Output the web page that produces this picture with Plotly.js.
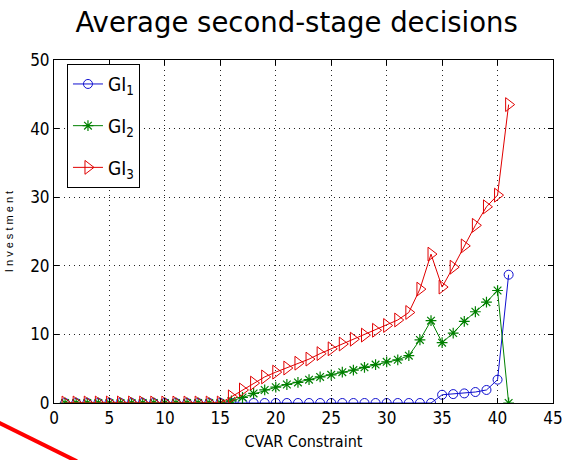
<!DOCTYPE html>
<html><head><meta charset="utf-8">
<script src="https://cdn.plot.ly/plotly-3.0.1.min.js"></script>
<style>html,body{margin:0;padding:0;background:#fff;}#chart{width:565px;height:460px;}</style>
</head><body><div id="chart"></div>
<script>
const cvar = [1,2,3,4,5,6,7,8,9,10,11,12,13,14,15,16,17,18,19,20,21,22,23,24,25,26,27,28,29,30,31,32,33,34,35,36,37,38,39,40,41];
const gi1 = [0,0,0,0,0,0,0,0,0,0,0,0,0,0,0,0,0,0,0,0,0,0,0,0,0,0,0,0,0,0,0,0,0,0,1.2,1.3,1.4,1.6,1.9,3.4,18.7];
const gi2 = [0,0,0,0,0,0,0,0,0,0,0,0,0,0,0,0.3,0.8,1.4,1.9,2.3,2.7,3.0,3.4,3.8,4.1,4.5,4.8,5.2,5.6,6.0,6.3,6.9,9.2,12.0,8.8,10.2,11.9,13.3,14.7,16.4,0];
const gi3 = [0,0,0,0,0,0,0,0,0,0,0,0,0,0,0,0.9,1.9,2.9,3.8,4.5,5.1,5.8,6.4,7.2,7.9,8.6,9.3,9.9,10.6,11.3,12.1,13.2,16.6,21.7,16.9,19.8,22.9,25.9,28.6,30.3,43.5];
const names = ["GI<sub>1</sub>","GI<sub>2</sub>","GI<sub>3</sub>"];
const xTicks = [0,5,10,15,20,25,30,35,40,45];
const yTicks = [0,10,20,30,40,50];

const narrow = "DejaVu Sans Condensed, Liberation Sans Narrow, Liberation Sans, Arial";
const tickFont = {family:narrow, size:17, color:"#000"};
const traces = [
  {x:cvar, y:gi1, name:names[0], legendgroup:"a", mode:"lines+markers",
   line:{color:"#1010d0", width:1}, marker:{symbol:"circle-open", size:9, color:"#1010d0", line:{width:1}}},
  {x:cvar, y:gi2, name:names[1], legendgroup:"b", mode:"lines+markers",
   line:{color:"#008000", width:1}, marker:{symbol:"asterisk-open", size:9, color:"#008000", line:{width:1.2}}},
  {x:cvar, y:gi3, name:names[2], legendgroup:"c", mode:"lines+markers",
   line:{color:"#e00000", width:1}, marker:{symbol:"triangle-right-open", size:12, color:"#e00000", line:{width:1}}}
];
const axisCommon = {
  showline:true, linecolor:"#000", linewidth:1, mirror:"ticks",
  ticks:"inside", ticklen:5, tickcolor:"#000",
  showgrid:true, gridcolor:"#222", griddash:"1px,4px", gridwidth:1,
  zeroline:false, tickfont:tickFont
};
const layout = {
  width:565, height:460,
  margin:{l:54, r:12, t:60, b:57},
  paper_bgcolor:"#fff", plot_bgcolor:"#fff",
  title:{text:"Average second-stage decisions", x:0.525, xanchor:"center", y:0.952, yanchor:"middle",
         font:{family:"DejaVu Sans", size:27.5, color:"#000"}},
  xaxis:Object.assign({}, axisCommon, {range:[0,45], tickvals:xTicks, ticktext:xTicks.map(String),
         title:{text:"CVAR Constraint", standoff:8, font:{family:narrow, size:16, color:"#000"}}}),
  yaxis:Object.assign({}, axisCommon, {range:[0,50], tickvals:yTicks, ticktext:yTicks.map(String),
         title:{text:"I n v e s t m e n t", standoff:14, font:{family:"Liberation Sans", size:11, color:"#000"}}}),
  showlegend:true,
  legend:{x:0.026, y:0.988, xanchor:"left", yanchor:"top", bgcolor:"#fff", bordercolor:"#000", borderwidth:1,
          traceorder:"grouped", tracegroupgap:14, font:{family:narrow, size:19, color:"#000"}},
  shapes:[{type:"line", xref:"paper", yref:"paper", x0:-0.11, y0:-0.058, x1:0.046, y1:-0.17,
           line:{color:"#ff0000", width:4}}]
};
Plotly.newPlot("chart", traces, layout, {displayModeBar:false, staticPlot:true});
</script></body></html>
